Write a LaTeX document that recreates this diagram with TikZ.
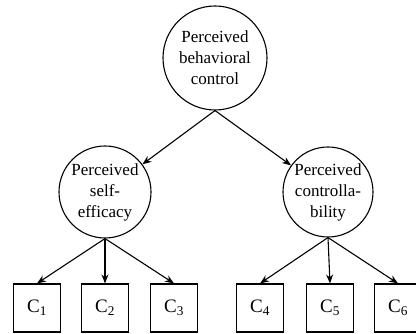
\documentclass[tikz,border=0pt]{standalone}
\usepackage{fontspec}
\setmainfont{Liberation Serif}
\usetikzlibrary{arrows.meta}
\begin{document}
\begin{tikzpicture}[x=1pt,y=1pt,
  latent/.style={circle,draw,line width=1.1pt,inner sep=0pt,align=center,
    font=\fontsize{17}{21}\selectfont},
  obs/.style={rectangle,draw,line width=1.1pt,minimum width=47pt,minimum height=48pt,inner sep=0pt,
    font=\fontsize{19}{21}\selectfont},
  arr/.style={line width=1.1pt,-{Stealth[length=9pt,width=7pt]}}]
\useasboundingbox (0,0) rectangle (416,334);
\node[latent,minimum size=104pt] (pbc) at (215,276) {Perceived\\behavioral\\control};
\node[latent,minimum size=92pt] (pse) at (105,142) {Perceived\\self-\\efficacy};
\node[latent,minimum size=90pt] (pc) at (328,142) {Perceived\\controlla-\\bility};
\node[obs] (c1) at (37,26) {C\textsubscript{1}};
\node[obs] (c2) at (105,26) {C\textsubscript{2}};
\node[obs] (c3) at (174,26) {C\textsubscript{3}};
\node[obs] (c4) at (260,26) {C\textsubscript{4}};
\node[obs] (c5) at (330,26) {C\textsubscript{5}};
\node[obs] (c6) at (398,26) {C\textsubscript{6}};
\draw[arr] (pbc.south) -- (pse);
\draw[arr] (pbc.south) -- (pc);
\draw[arr] (pse.south) -- (c1.north);
\draw[arr] (pse.south) -- (c2.north);
\draw[arr] (pse.south) -- (c3.north);
\draw[arr] (pc.south) -- (c4.north);
\draw[arr] (pc.south) -- (c5.north);
\draw[arr] (pc.south) -- (c6.north);
\end{tikzpicture}
\end{document}
